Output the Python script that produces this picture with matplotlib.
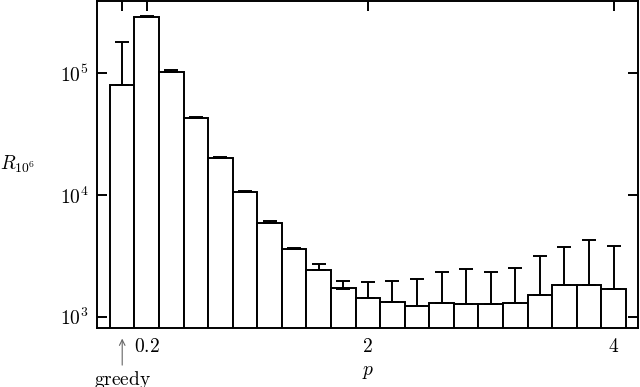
import numpy as np
import matplotlib.pyplot as plt

plt.rcParams['mathtext.fontset'] = 'cm'
plt.rcParams['font.family'] = 'serif'
plt.rcParams['font.serif'] = ['DejaVu Serif']

# p values of the bars (p = 0 is the greedy run)
p = [0.0, 0.2, 0.4, 0.6, 0.8, 1.0, 1.2, 1.4, 1.6, 1.8, 2.0,
     2.2, 2.4, 2.6, 2.8, 3.0, 3.2, 3.4, 3.6, 3.8, 4.0]
# mean R_{10^6}
r_mean = [8.0e4, 2.89e5, 1.03e5, 4.31e4, 2.0e4, 1.05e4, 5.9e3, 3.58e3, 2.42e3, 1.70e3, 1.43e3,
          1.32e3, 1.23e3, 1.30e3, 1.27e3, 1.26e3, 1.30e3, 1.50e3, 1.80e3, 1.83e3, 1.68e3]
# top of the error bar
r_upper = [1.81e5, 2.97e5, 1.06e5, 4.4e4, 2.05e4, 1.08e4, 6.08e3, 3.67e3, 2.71e3, 1.96e3, 1.93e3,
           1.95e3, 2.05e3, 2.33e3, 2.45e3, 2.33e3, 2.50e3, 3.15e3, 3.72e3, 4.25e3, 3.83e3]

xticks = [0.0, 0.2, 2.0, 4.0]
xticklabels = ['', '$0.2$', '$2$', '$4$']

fs = 14

fig = plt.figure(figsize=(6.4, 3.87), dpi=100)
ax = fig.add_axes([0.1516, 0.1517, 0.8454, 0.8453])

lw = 1.4
ax.bar(p, r_mean, width=0.2, bottom=1, color='white', edgecolor='black', linewidth=lw, zorder=2)
yerr = [np.zeros(len(p)), np.array(r_upper) - np.array(r_mean)]
ax.errorbar(p, r_mean, yerr=yerr, fmt='none', ecolor='black', elinewidth=lw,
            capsize=5, capthick=lw, zorder=3)

ax.set_yscale('log')
ax.set_xlim(-0.205, 4.2)
ax.set_ylim(800, 3.93e5)

ax.set_xticks(xticks)
ax.set_xticklabels(xticklabels)
ax.set_yticks([1e3, 1e4, 1e5])
ax.set_yticklabels(['$10^3$', '$10^4$', '$10^5$'])
ax.minorticks_off()
ax.tick_params(direction='in', length=7, width=lw, labelsize=fs, top=True, right=True)
ax.tick_params(axis='x', pad=7)
ax.tick_params(axis='y', pad=6)
for s in ax.spines.values():
    s.set_linewidth(lw)

ax.set_xlabel('$p$', fontsize=fs)
ax.xaxis.set_label_coords(0.501, -0.105)
ax.set_ylabel('$R_{10^6}$', fontsize=fs, rotation=0, ha='center', va='center')
ax.yaxis.set_label_coords(-0.146, 0.5)

# greedy marker below the axis
trans = ax.get_xaxis_transform()
ax.annotate('', xy=(0, -0.023), xycoords=trans, xytext=(0, -0.121), textcoords=trans,
            arrowprops=dict(arrowstyle='->', lw=0.8, color='0.4'))
ax.text(0, -0.124, r'$\mathrm{greedy}$', transform=trans, ha='center', va='top', fontsize=fs)

fig.savefig('out.png', dpi=100)
